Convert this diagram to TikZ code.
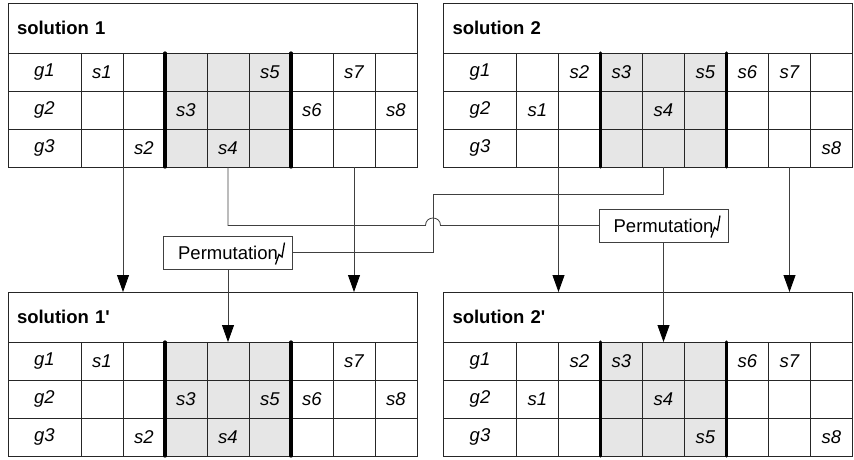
\documentclass[tikz,border=0pt]{standalone}
\usepackage{fontspec}
\setmainfont{Liberation Sans}
\usepackage{tikz}
\usetikzlibrary{arrows.meta,calc,positioning}
\definecolor{zone}{HTML}{E6E6E6}
\definecolor{grid}{HTML}{262626}
\definecolor{wire}{HTML}{404040}
\newcommand{\figsize}{\fontsize{18.5}{22}\selectfont}
\tikzset{%
	head/.style    = {draw=grid, line width=0.9pt, fill=white, anchor=north west, minimum width=409pt, minimum height=50pt, text width=391pt, inner xsep=9pt, outer sep=0pt, align=left, font=\figsize\bfseries},
	gcell/.style   = {draw=grid, line width=0.9pt, anchor=north west, minimum width=73pt, minimum height=38pt, inner sep=0pt, outer sep=0pt, font=\figsize\itshape},
	cell/.style    = {draw=grid, line width=0.9pt, fill=white, anchor=north west, minimum width=42pt, minimum height=38pt, inner sep=0pt, outer sep=0pt},
	entry/.style   = {inner sep=0pt, font=\figsize\itshape},
	cut/.style     = {line width=3.2pt, line cap=round},
	flow/.style    = {draw=wire, line width=0.8pt, -{Triangle[length=17pt,width=12pt,color=black]}},
	link/.style    = {draw=wire, line width=0.8pt},
	permbox/.style = {draw=wire, line width=0.9pt, fill=white, minimum width=129pt, minimum height=33pt, inner sep=0pt, outer sep=0pt, font=\figsize},
	bolt/.style    = {line width=1.3pt, line join=miter},
}
% one solution table: name, top left corner, title, entries row/col/text
\newcommand{\soltable}[4]{%
	\node[head] (#1) at (#2) {#3};
	\foreach \row in {1,2,3} {
		\node[gcell] (#1-\row-0) at ($(#1.south west)+(0,{(\row-1)*38})$) {g\row};
		\foreach \col in {1,2,6,7,8}
			\node[cell] (#1-\row-\col) at ($(#1-\row-0.north east)+({(\col-1)*42},0)$) {};
		\foreach \col in {3,4,5}
			\node[cell,fill=zone] (#1-\row-\col) at ($(#1-\row-0.north east)+({(\col-1)*42},0)$) {};
	}
	\draw[cut] (#1-1-3.north west) -- (#1-3-3.south west);
	\draw[cut] (#1-1-5.north east) -- (#1-3-5.south east);
	\foreach \row/\col/\txt in {#4}
		\node[entry] (#1-\txt) at (#1-\row-\col) {\txt};
}
\begin{document}
\begin{tikzpicture}[x=1pt,y=-1pt]
	\useasboundingbox (0,0) rectangle (854,459);
	\soltable{t1}{8,3}{solution 1}{1/1/s1,1/5/s5,1/7/s7,2/3/s3,2/6/s6,2/8/s8,3/2/s2,3/4/s4}
	\soltable{t2}{443.5,3}{solution 2}{1/2/s2,1/3/s3,1/5/s5,1/6/s6,1/7/s7,2/1/s1,2/4/s4,3/8/s8}
	\soltable{b1}{8,292}{solution 1\textquotesingle}{1/1/s1,1/7/s7,2/3/s3,2/5/s5,2/6/s6,2/8/s8,3/2/s2,3/4/s4}
	\soltable{b2}{443.5,292}{solution 2\textquotesingle}{1/2/s2,1/3/s3,1/6/s6,1/7/s7,2/1/s1,2/4/s4,3/5/s5,3/8/s8}
	% permutation boxes
	\node[permbox] (p1) at (228,252.5) {Permutation};
	\node[permbox] (p2) at (663.5,225.5) {Permutation};
	\draw[bolt] ([shift={(-17,12)}]p1.east) -- ++(3.5,-10) -- ++(3,2.5) -- ++(2.5,-14.5);
	\draw[bolt] ([shift={(-17,12)}]p2.east) -- ++(3.5,-10) -- ++(3,2.5) -- ++(2.5,-14.5);
	% crossing lines
	\coordinate (jog) at (433,194);
	\coordinate (hopL) at ($(jog |- p2.west)+(-7.5,0)$);
	\coordinate (hopR) at ($(jog |- p2.west)+(7.5,0)$);
	\draw[link] (p1.east) -| (jog) -| (t2-3-4.south);
	\draw[link] (t1-3-4.south) |- (hopL) .. controls +(0,-10) and +(0,-10) .. (hopR) -- (p2.west);
	% arrows down
	\draw[flow] (t1-3-2.south west) -- (t1-3-2.south west |- b1.north);
	\draw[flow] (t1-3-7.south) -- (t1-3-7.south |- b1.north);
	\draw[flow] (p1.south) -- (b1-1-4.north);
	\draw[flow] (t2-3-2.south west) -- (t2-3-2.south west |- b2.north);
	\draw[flow] (t2-3-7.south) -- (t2-3-7.south |- b2.north);
	\draw[flow] (p2.south) -- (b2-1-4.north);
\end{tikzpicture}
\end{document}
